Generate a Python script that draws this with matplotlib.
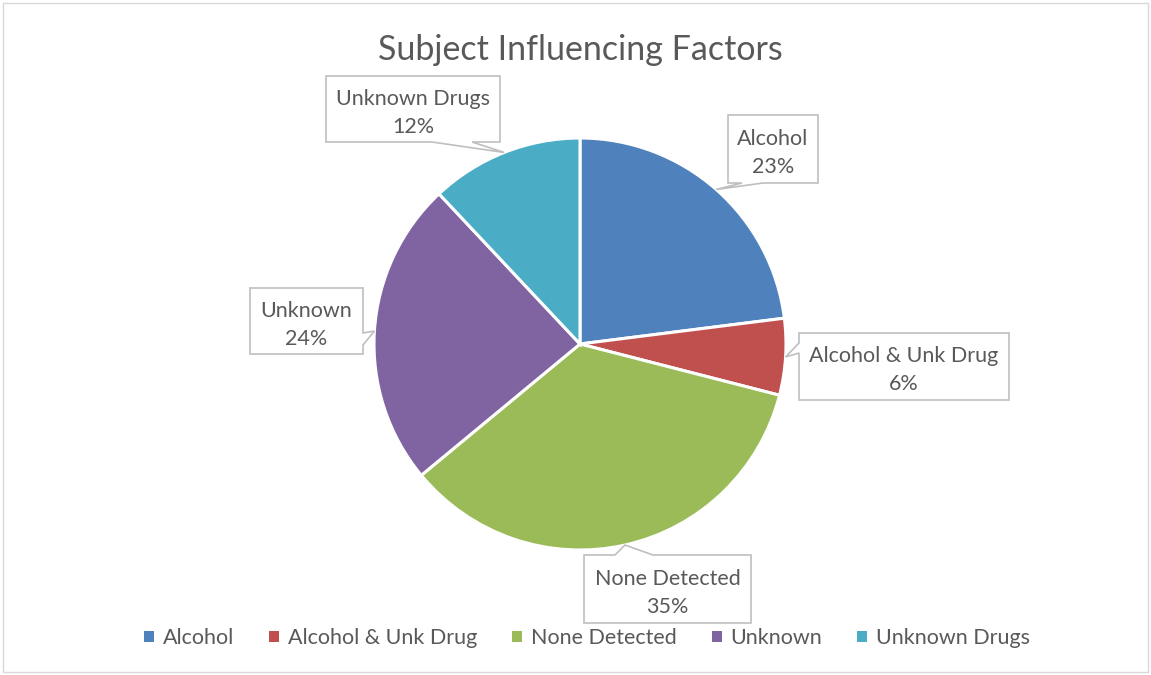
import numpy as np
import matplotlib.pyplot as plt
from matplotlib.patches import Polygon, Rectangle

plt.rcParams['font.family'] = ['Lato', 'DejaVu Sans']

categories = ['Alcohol', 'Alcohol & Unk Drug', 'None Detected', 'Unknown', 'Unknown Drugs']
shares = [23, 6, 35, 24, 12]
colors = ['#4F81BD', '#C0504D', '#9BBB59', '#8064A2', '#4BACC6']
title = 'Subject Influencing Factors'

W, H = 1151, 675
cx, cy, rad = 580, 344, 206   # pie centre / radius in pixels
text_col = '#595959'
box_col = '#BFBFBF'

fig = plt.figure(figsize=(W / 100, H / 100), dpi=100)

ax = fig.add_axes([(cx - rad) / W, (H - cy - rad) / H, 2 * rad / W, 2 * rad / H])
wedges, _ = ax.pie(shares, colors=colors, startangle=90, counterclock=False,
                   radius=1.0, wedgeprops=dict(edgecolor='white', linewidth=2.2))
ax.set_xlim(-1, 1)
ax.set_ylim(-1, 1)
ax.set_aspect('equal')
ax.axis('off')

ov = fig.add_axes([0, 0, 1, 1], zorder=5)
ov.set_xlim(0, W)
ov.set_ylim(H, 0)
ov.axis('off')
ov.patch.set_alpha(0)

ov.add_patch(Rectangle((3, 3), W - 6, H - 6, fill=False, edgecolor='#D9D9D9', lw=1))

ov.text(cx, 50, title, ha='center', va='center', fontsize=24.5, color=text_col)

# callout boxes: (x0, y0, x1, y1), side of pointer, pointer base span
callouts = {
    'Alcohol': ((728, 115, 818, 183), 'bottom', (742, 763)),
    'Alcohol & Unk Drug': ((799, 333, 1009, 400), 'left', (343, 353)),
    'None Detected': ((584, 555, 751, 623), 'top', (615, 653)),
    'Unknown': ((250, 288, 363, 354), 'right', (333, 345)),
    'Unknown Drugs': ((326, 76, 500, 142), 'bottom', (432, 472)),
}

cum = np.cumsum([0] + shares)
for i, name in enumerate(categories):
    mid = np.deg2rad(90 - (cum[i] + shares[i] / 2) * 3.6)
    tip = (cx + rad * np.cos(mid), cy - rad * np.sin(mid))
    (x0, y0, x1, y1), side, (a, b) = callouts[name]
    if side == 'bottom':
        pts = [(x0, y0), (x1, y0), (x1, y1), (b, y1), tip, (a, y1), (x0, y1)]
    elif side == 'top':
        pts = [(x0, y0), (a, y0), tip, (b, y0), (x1, y0), (x1, y1), (x0, y1)]
    elif side == 'left':
        pts = [(x0, y0), (x1, y0), (x1, y1), (x0, y1), (x0, b), tip, (x0, a)]
    else:
        pts = [(x0, y0), (x1, y0), (x1, a), tip, (x1, b), (x1, y1), (x0, y1)]
    ov.add_patch(Polygon(pts, closed=True, facecolor='white', edgecolor=box_col, lw=1.2))
    ov.text((x0 + x1) / 2, (y0 + y1) / 2 + 4, f'{name}\n{shares[i]}%', ha='center', va='center',
            fontsize=15.5, color=text_col, linespacing=1.5)

leg = fig.legend(wedges, categories, loc='center', bbox_to_anchor=(587 / W, 1 - 638 / H), ncol=5,
                 frameon=False, fontsize=15.5, handlelength=0.45, handleheight=0.45,
                 handletextpad=0.4, columnspacing=1.65, labelcolor=text_col)
for h in leg.legend_handles:
    h.set_edgecolor('none')

fig.savefig('out.png', dpi=100)
